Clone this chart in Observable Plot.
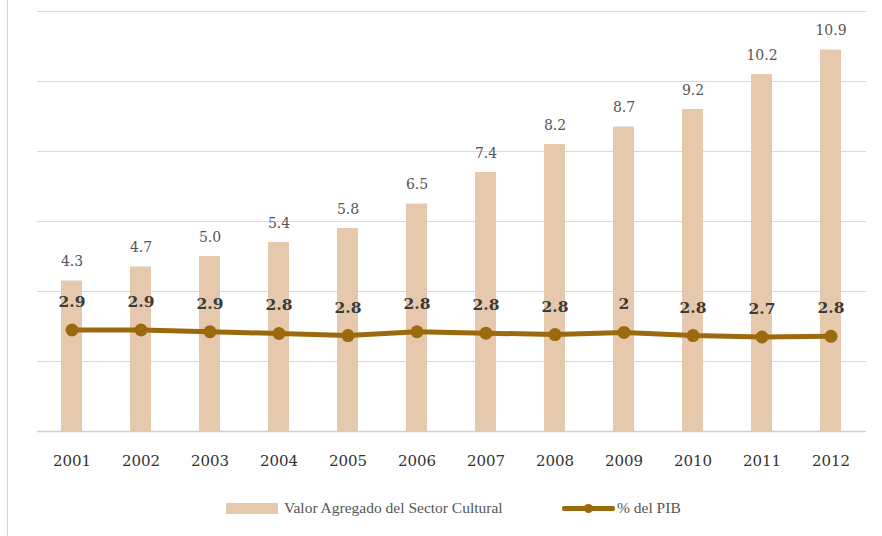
<!DOCTYPE html>
<html>
<head>
<meta charset="utf-8">
<script src="https://cdn.jsdelivr.net/npm/d3@7"></script>
<script src="https://cdn.jsdelivr.net/npm/@observablehq/plot@0.6"></script>
<style>
  html, body { margin: 0; padding: 0; background: #fff; }
  #wrap { position: relative; width: 882px; height: 536px; overflow: hidden; }
  #border { position: absolute; left: 7px; top: 0; width: 1px; height: 536px; background: #d6d6d6; }
  #chart { position: absolute; left: 0; top: 0; }
  #legend { position: absolute; left: 0; top: 497px; width: 882px; height: 24px;
            font-family: "Liberation Serif", serif; font-size: 15.5px; color: #555; }
  .sw-bar { position: absolute; left: 226px; top: 6px; width: 52px; height: 11px; background: #e6c9ad; }
  .lab1 { position: absolute; left: 284px; top: 2px; white-space: nowrap; }
  .sw-line { position: absolute; left: 562px; top: 9px; width: 53px; height: 5px; background: #9b6a0f; border-radius: 2px; }
  .sw-dot { position: absolute; left: 584px; top: 7px; width: 9px; height: 9px; border-radius: 50%; background: #9b6a0f; }
  .lab2 { position: absolute; left: 617px; top: 2px; white-space: nowrap; }
</style>
</head>
<body>
<div id="wrap">
  <div id="border"></div>
  <div id="chart"></div>
  <div id="legend">
    <div class="sw-bar"></div><div class="lab1">Valor Agregado del Sector Cultural</div>
    <div class="sw-line"></div><div class="sw-dot"></div><div class="lab2">% del PIB</div>
  </div>
</div>
<script>
const years = ["2001","2002","2003","2004","2005","2006","2007","2008","2009","2010","2011","2012"];
const valorAgregado = [4.3, 4.7, 5.0, 5.4, 5.8, 6.5, 7.4, 8.2, 8.7, 9.2, 10.2, 10.9];
const pctPIB = [2.9, 2.9, 2.85, 2.8, 2.74, 2.85, 2.81, 2.77, 2.83, 2.74, 2.7, 2.72];
const pctLabels = ["2.9","2.9","2.9","2.8","2.8","2.8","2.8","2.8","2","2.8","2.7","2.8"];
const gridTicks = [2, 4, 6, 8, 10, 12];

const barColor = "#e6c9ad";
const lineColor = "#9b6a0f";

const bars = years.map((y, i) => ({year: y, value: valorAgregado[i]}));
const pts = years.map((y, i) => ({year: y, value: pctPIB[i], label: pctLabels[i]}));

const chart = Plot.plot({
  width: 882,
  height: 490,
  marginTop: 11,
  marginBottom: 59,
  marginLeft: 37,
  marginRight: 16,
  style: {background: "transparent", fontFamily: "DejaVu Serif, serif"},
  x: {domain: years, paddingInner: 0.69, paddingOuter: 0.345, align: 0.5, label: null},
  y: {domain: [0, 12], axis: null, label: null},
  marks: [
    Plot.ruleY(gridTicks, {stroke: "#d9d9d9", strokeWidth: 1.2}),
    Plot.barY(bars, {x: "year", y: "value", fill: barColor}),
    Plot.ruleY([0], {stroke: "#cfcfcf", strokeWidth: 1.5}),
    Plot.axisX({tickSize: 0, tickPadding: 24, fontSize: 15, fill: "#333", fontFamily: "DejaVu Serif, serif"}),
    Plot.text(bars, {x: "year", y: "value", text: d => d3.format(".1f")(d.value), dy: -19,
      fontSize: 14, fill: "#555", fontFamily: "DejaVu Serif, serif"}),
    Plot.line(pts, {x: "year", y: "value", stroke: lineColor, strokeWidth: 5}),
    Plot.dot(pts, {x: "year", y: "value", r: 6.5, fill: lineColor, stroke: "none"}),
    Plot.text(pts, {x: "year", y: "value", text: "label", dy: -28, fontSize: 15.5, fontWeight: "bold",
      fill: "#3a3a3a", fontFamily: "DejaVu Serif, serif"})
  ]
});
document.getElementById("chart").appendChild(chart);
</script>
</body>
</html>
